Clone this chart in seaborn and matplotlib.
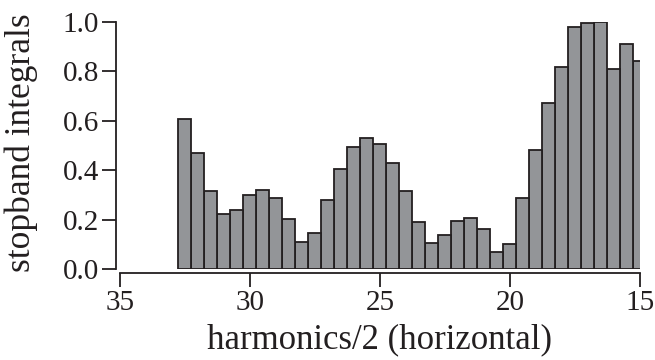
import matplotlib
matplotlib.use("Agg")
import matplotlib.pyplot as plt
import seaborn as sns
import pandas as pd

# Harmonic index (halved) and the stopband integral for each
harmonics = [32.5, 32.0, 31.5, 31.0, 30.5, 30.0, 29.5, 29.0, 28.5, 28.0,
             27.5, 27.0, 26.5, 26.0, 25.5, 25.0, 24.5, 24.0, 23.5, 23.0,
             22.5, 22.0, 21.5, 21.0, 20.5, 20.0, 19.5, 19.0, 18.5, 18.0,
             17.5, 17.0, 16.5, 16.0, 15.5, 15.0]
integrals = [0.607, 0.468, 0.316, 0.225, 0.241, 0.299, 0.319, 0.289, 0.204, 0.109,
             0.145, 0.281, 0.406, 0.495, 0.532, 0.506, 0.431, 0.318, 0.192, 0.106,
             0.140, 0.196, 0.208, 0.163, 0.069, 0.103, 0.287, 0.483, 0.672, 0.818,
             0.979, 0.996, 0.999, 0.810, 0.911, 0.840]
x_ticks = [35, 30, 25, 20, 15]
y_ticks = [0.0, 0.2, 0.4, 0.6, 0.8, 1.0]

sns.set_style("ticks")
plt.rcParams["font.family"] = ["Liberation Serif", "DejaVu Serif"]

df = pd.DataFrame({"harmonic": harmonics, "integral": integrals})

fig = plt.figure(figsize=(6.55, 3.6), dpi=100)
ax = fig.add_axes([0.183, 0.252, 0.794, 0.688])

sns.barplot(data=df, x="harmonic", y="integral", native_scale=True, width=1.0,
            color="#939598", saturation=1, edgecolor="#231f20", linewidth=1.3,
            errorbar=None, ax=ax)

ax.set_xlim(35, 15)
ax.set_ylim(0, 1.0)
ax.set_xticks(x_ticks)
ax.set_xticklabels([str(t) for t in x_ticks])
ax.set_yticks(y_ticks)
ax.set_yticklabels([f"{t:.1f}" for t in y_ticks])

for side in ("top", "right"):
    ax.spines[side].set_visible(False)
for side in ("left", "bottom"):
    ax.spines[side].set_position(("outward", 3))
    ax.spines[side].set_linewidth(1.3)
    ax.spines[side].set_color("#231f20")

ax.tick_params(axis="both", direction="out", length=10, width=1.3,
               color="#231f20", labelsize=21, labelcolor="#231f20", pad=2)

ax.set_xlabel("harmonics/2 (horizontal)", fontsize=25, color="#231f20", labelpad=5.5)
ax.set_ylabel("stopband integrals", fontsize=25.5, color="#231f20")
ax.yaxis.set_label_coords(-0.157, 0.51)

fig.savefig("out.png", dpi=100)
